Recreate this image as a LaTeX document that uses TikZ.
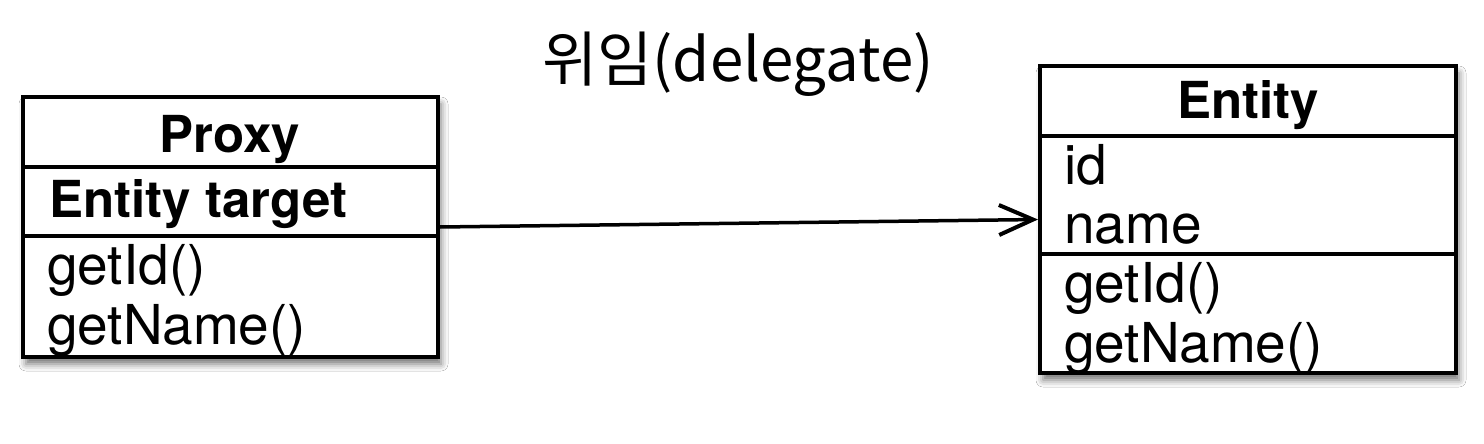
\documentclass[tikz,border=0pt]{standalone}
\usepackage{fontspec}
\setmainfont{TeX Gyre Heros}
\newfontfamily\kofont{Noto Sans CJK KR}
\usetikzlibrary{arrows.meta,shadows.blur}
\begin{document}
\begin{tikzpicture}[x=1pt,y=-1pt,
  classbox/.style={draw=black, line width=4pt, fill=white, inner sep=0pt,
    blur shadow={shadow xshift=3pt, shadow yshift=-7pt, shadow blur radius=7pt, shadow opacity=55}},
  divider/.style={line width=4pt},
  nametext/.style={font=\fontsize{51}{51}\selectfont\bfseries, anchor=base, inner sep=0pt},
  boldmember/.style={font=\fontsize{51}{51}\selectfont\bfseries, anchor=base west, inner sep=0pt},
  member/.style={font=\fontsize{55}{55}\selectfont, anchor=base west, inner sep=0pt},
  link/.style={line width=3.5pt, -{Straight Barb[length=34pt,width=30pt,line width=4pt]}}
]
\useasboundingbox (0,0) rectangle (1484,444);
\fill[white] (0,0) rectangle (1484,444);

% Proxy box
\node[classbox, minimum width=415pt, minimum height=260pt] (proxy) at (230.5,227) {};
\draw[divider] (proxy.west |- 0,167) -- (proxy.east |- 0,167);
\draw[divider] (proxy.west |- 0,236) -- (proxy.east |- 0,236);
\node[nametext] (proxyname) at (230,152) {Proxy};
\node[boldmember] (proxytarget) at (49,217) {Entity target};
\node[member] (proxygetid) at (47,284) {getId()};
\node[member] (proxygetname) at (47,344) {getName()};

% Entity box
\node[classbox, minimum width=416pt, minimum height=307pt] (entity) at (1248,219.5) {};
\draw[divider] (entity.west |- 0,136) -- (entity.east |- 0,136);
\draw[divider] (entity.west |- 0,254) -- (entity.east |- 0,254);
\node[nametext] (entityname) at (1248,118) {Entity};
\node[member] (entityid) at (1064,184) {id};
\node[member] (entityname2) at (1064,243) {name};
\node[member] (entitygetid) at (1064,302) {getId()};
\node[member] (entitygetname) at (1064,362) {getName()};

% Title
\node[font=\kofont\fontsize{60}{60}\selectfont, inner sep=0pt] (title) at (738,64) {위임(delegate)};

% Connector
\draw[link] (proxy.east) -- (entity.west);
\end{tikzpicture}
\end{document}
